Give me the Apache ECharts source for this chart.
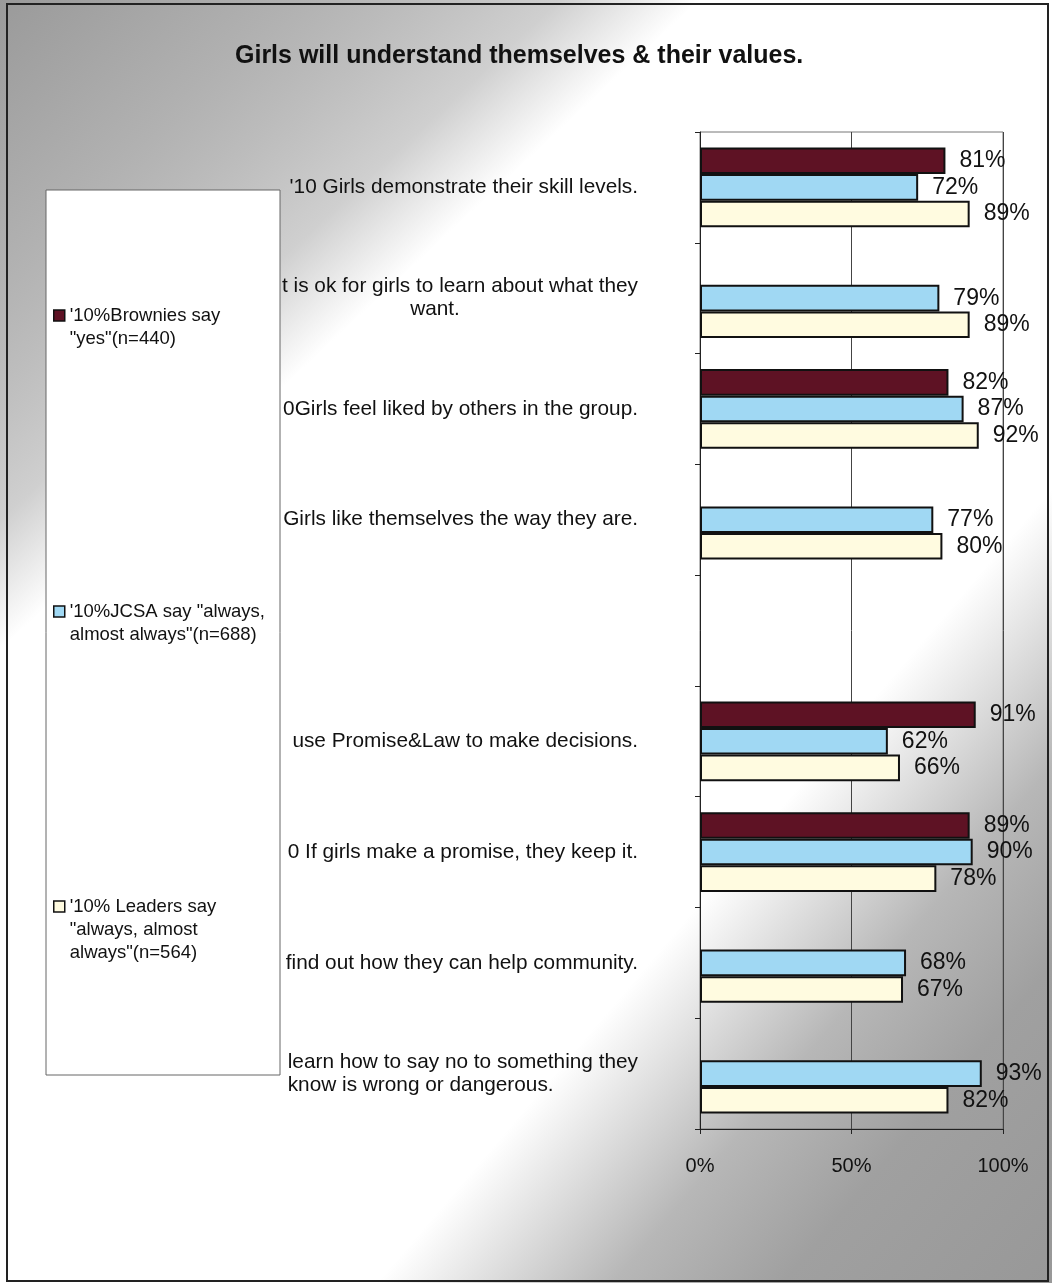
<!DOCTYPE html>
<html>
<head>
<meta charset="utf-8">
<script src="https://cdn.jsdelivr.net/npm/echarts@6/dist/echarts.min.js"></script>
<style>
  html, body { margin: 0; padding: 0; background: #fff; }
  #chart { width: 1052px; height: 1283px; }
</style>
</head>
<body>
<div id="chart"></div>
<script>
/* 类别（从上到下），左边被图例框挡住的部分不写 */
var categories = [
    "'10 Girls demonstrate their skill levels.",
    "t is ok for girls to learn about what they\nwant.",
    "0Girls feel liked by others in the group.",
    "Girls like themselves the way they are.",
    "",
    "use Promise&Law to make decisions.",
    "0 If girls make a promise, they keep it.",
    "find out how they can help community.",
    "learn how to say no to something they\nknow is wrong or dangerous."
];
var seriesNames = [
    "'10%Brownies say\n\"yes\"(n=440)",
    "'10%JCSA say \"always,\nalmost always\"(n=688)",
    "'10% Leaders say\n\"always, almost\nalways\"(n=564)"
];
var brownies = [81, null, 82, null, null, 91, 89, null, null];
var jcsa     = [72, 79, 87, 77, null, 62, 90, 68, 93];
var leaders  = [89, 89, 92, 80, null, 66, 78, 67, 82];
var xTicks = [0, 50, 100];

var colorArr = ['#5e1224', '#a0d8f3', '#fffbe0'];
var W = 1052, H = 1283;
var FONT = 'Liberation Sans, Arial, sans-serif';
var LH = 23;
var CAT_FS = 20.8;

/* 多行标签：第二行的对齐方式 */
var secondLineStyle = { 1: 'mid', 8: 'lft' };

var myChart = echarts.init(document.getElementById('chart'));

function barSeries(name, data, color) {
    return {
        name: name,
        type: 'bar',
        data: data,
        barGap: '0%',
        barCategoryGap: '28%',
        itemStyle: { color: color, borderColor: '#111', borderWidth: 2 },
        label: {
            show: true,
            position: 'right',
            distance: 14,
            fontSize: 23,
            fontFamily: FONT,
            color: '#111',
            formatter: '{c}%'
        },
        z: 5
    };
}

/* 图例：图标和第一行文字对齐 */
function oneLegend(name, left, iconCenterY) {
    var n = name.split('\n').length;
    var blockH = (2 * n - 1) * LH;
    return {
        orient: 'vertical',
        left: left,
        top: Math.round(iconCenterY - blockH / 2),
        padding: 0,
        itemWidth: 11,
        itemHeight: 11,
        icon: 'rect',
        z: 10,
        selectedMode: false,
        data: [name],
        itemStyle: { borderColor: '#111', borderWidth: 1.5 },
        formatter: function (nm) {
            var k = nm.split('\n').length;
            var pre = '';
            for (var i = 1; i < k; i++) pre += '\n';
            return pre + nm;
        },
        textStyle: {
            fontSize: 18.5,
            lineHeight: LH,
            color: '#111',
            fontFamily: FONT
        }
    };
}

var option = {
    animation: false,
    color: colorArr,
    title: {
        text: 'Girls will understand themselves & their values.',
        left: 230,
        top: 39,
        textStyle: {
            fontSize: 25,
            fontWeight: 'bold',
            color: '#111',
            fontFamily: FONT
        }
    },
    graphic: {
        elements: [
            { type: 'rect', z: -30, silent: true,
              shape: { x: 0, y: 0, width: W, height: H },
              style: { fill: '#ffffff' } },
            { type: 'rect', z: -29, silent: true,
              shape: { x: 0, y: 0, width: W, height: H },
              style: { fill: new echarts.graphic.LinearGradient(0, 0, 324, 349, [
                  { offset: 0, color: 'rgba(154,154,154,1)' },
                  { offset: 0.4, color: 'rgba(176,176,176,1)' },
                  { offset: 0.8, color: 'rgba(160,160,160,0.5)' },
                  { offset: 1, color: 'rgba(160,160,160,0)' }
              ], true) } },
            { type: 'rect', z: -28, silent: true,
              shape: { x: 0, y: 0, width: W, height: H },
              style: { fill: new echarts.graphic.LinearGradient(660, 950, 1052, 1283, [
                  { offset: 0, color: 'rgba(165,165,165,0)' },
                  { offset: 0.35, color: 'rgba(165,165,165,0.8)' },
                  { offset: 0.6, color: 'rgba(160,160,160,1)' },
                  { offset: 1, color: 'rgba(152,152,152,1)' }
              ], true) } },
            { type: 'rect', z: -27, silent: true,
              shape: { x: 7, y: 4, width: 1041, height: 1277 },
              style: { fill: null, stroke: '#222', lineWidth: 2 } },
            { type: 'rect', z: 1, silent: true,
              shape: { x: 46, y: 190, width: 234, height: 885 },
              style: { fill: '#ffffff', stroke: '#666', lineWidth: 1 } }
        ]
    },
    legend: [
        oneLegend(seriesNames[0], 53, 315),
        oneLegend(seriesNames[1], 53, 611),
        oneLegend(seriesNames[2], 53, 906)
    ],
    grid: {
        left: 700,
        right: 49,
        top: 132,
        bottom: 154,
        show: true,
        borderColor: '#777',
        borderWidth: 1,
        backgroundColor: 'transparent'
    },
    xAxis: {
        type: 'value',
        min: xTicks[0],
        max: xTicks[xTicks.length - 1],
        interval: xTicks[1] - xTicks[0],
        axisLine: { show: true, lineStyle: { color: '#222', width: 1 } },
        axisTick: { show: true, length: 5, lineStyle: { color: '#222' } },
        splitLine: { show: true, lineStyle: { color: '#444', width: 1 } },
        axisLabel: {
            fontSize: 20,
            color: '#111',
            margin: 27,
            fontFamily: FONT,
            formatter: '{value}%'
        }
    },
    yAxis: {
        type: 'category',
        inverse: true,
        data: categories,
        axisLine: { show: true, lineStyle: { color: '#222', width: 1 } },
        axisTick: { show: true, length: 5, lineStyle: { color: '#222' } },
        axisLabel: {
            margin: 62,
            fontSize: CAT_FS,
            lineHeight: LH,
            color: '#111',
            fontFamily: FONT,
            formatter: function (val, idx) {
                var lines = val.split('\n');
                if (lines.length < 2) return val;
                var st = secondLineStyle[idx] || 'mid';
                return '{a|' + lines[0] + '}\n{' + st + '|' + lines[1] + '}';
            },
            rich: {
                a: { fontSize: CAT_FS, lineHeight: LH, color: '#111', fontFamily: FONT },
                mid: { fontSize: CAT_FS, lineHeight: LH, color: '#111', align: 'center',
                       padding: [0, 50, 0, 0], fontFamily: FONT },
                lft: { fontSize: CAT_FS, lineHeight: LH, color: '#111', align: 'left', fontFamily: FONT }
            }
        }
    },
    series: [
        barSeries(seriesNames[0], brownies, colorArr[0]),
        barSeries(seriesNames[1], jcsa, colorArr[1]),
        barSeries(seriesNames[2], leaders, colorArr[2])
    ]
};
myChart.setOption(option);
</script>
</body>
</html>
